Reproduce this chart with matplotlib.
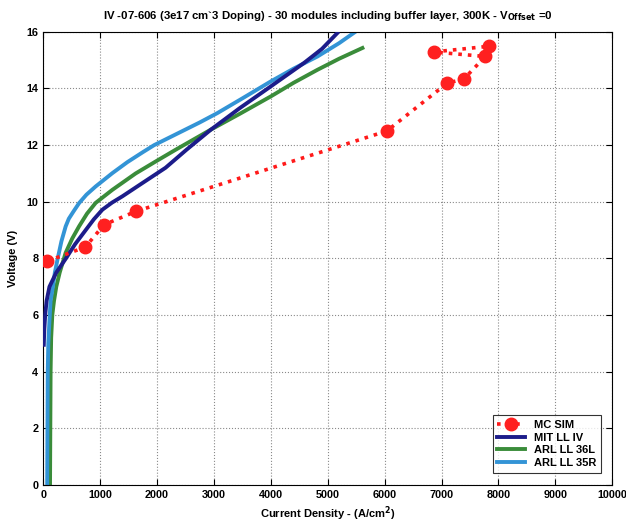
import numpy as np
import matplotlib.pyplot as plt

plt.rcParams['font.family'] = ['Liberation Sans', 'DejaVu Sans']
plt.rcParams['font.weight'] = 'bold'

# Monte Carlo simulation points (A/cm^2, V)
mc_j = [70, 740, 1070, 1630, 6040, 7100, 7390, 7770, 6860, 7830]
mc_v = [7.9, 8.4, 9.19, 9.66, 12.5, 14.19, 14.33, 15.13, 15.29, 15.49]

# Measured IV curves
mit_j = [10, 20, 35, 60, 110, 230, 400, 560, 747, 890, 1040, 1210, 1390,
         1743, 2150, 2520, 2943, 3450, 3997, 4300, 4583, 4900, 5170]
mit_v = [4.95, 5.5, 6.0, 6.5, 7.0, 7.5, 8.0, 8.5, 9.0, 9.38, 9.72, 9.97,
         10.19, 10.66, 11.2, 11.84, 12.54, 13.3, 14.07, 14.5, 14.9, 15.4, 15.96]

arl36_j = [120, 125, 130, 140, 160, 190, 230, 290, 395, 510, 630, 770, 922,
           1215, 1625, 2000, 2330, 2600, 2940, 3450, 4000, 4400, 4820, 5200,
           5610]
arl36_v = [0.0, 2.0, 4.0, 5.2, 6.0, 6.5, 7.0, 7.5, 8.2, 8.7, 9.13, 9.58,
           9.96, 10.42, 11.0, 11.45, 11.84, 12.15, 12.54, 13.1, 13.72, 14.2,
           14.66, 15.05, 15.43]

arl35_j = [70, 75, 80, 90, 110, 130, 170, 205, 250, 320, 395, 450, 530, 630,
           760, 922, 1215, 1480, 1750, 1950, 2350, 2750, 3060, 3500, 4000,
           4400, 4820, 5200, 5520]
arl35_v = [0.0, 2.0, 4.0, 5.0, 5.8, 6.5, 7.0, 7.5, 7.95, 8.6, 9.13, 9.4,
           9.65, 9.95, 10.25, 10.54, 11.01, 11.4, 11.75, 12.0, 12.4, 12.8,
           13.13, 13.65, 14.25, 14.7, 15.13, 15.6, 16.05]

fig = plt.figure(figsize=(6.26, 5.22), dpi=100)
ax = fig.add_axes([0.069, 0.071, 0.909, 0.868])

ax.plot(mc_j, mc_v, color='#ff1a1a', linestyle=':', linewidth=2.6,
        marker='o', markersize=9, markerfacecolor='#ff2020',
        markeredgecolor='#ff2020', label='MC SIM', zorder=4)
ax.plot(mit_j, mit_v, color='#1c1c8a', linewidth=2.8, label='MIT LL IV', zorder=3)
ax.plot(arl36_j, arl36_v, color='#3a8c3a', linewidth=2.8, label='ARL LL 36L', zorder=2)
ax.plot(arl35_j, arl35_v, color='#3394d6', linewidth=2.8, label='ARL LL 35R', zorder=2)

ax.set_xlim(0, 10000)
ax.set_ylim(0, 16)
ax.set_xticks(np.arange(0, 10001, 1000))
ax.set_yticks(np.arange(0, 17, 2))
ax.tick_params(direction='in', top=True, right=True, labelsize=7.8, length=4)
for lab in ax.get_xticklabels() + ax.get_yticklabels():
    lab.set_fontweight('bold')
ax.grid(True, linestyle=':', color='#8a8a8a', linewidth=0.8)

ax.set_xlabel('Current Density - (A/cm$^2$)', fontsize=8, fontweight='bold', labelpad=3)
ax.set_ylabel('Voltage (V)', fontsize=8, fontweight='bold', labelpad=6)
ax.set_title('IV -07-606 (3e17 cm`3 Doping) - 30 modules including buffer layer, '
             '300K - V$_{\\mathbf{Offset}}$ =0', fontsize=8.2, fontweight='bold', pad=9)

leg = ax.legend(loc='lower right', fontsize=8, frameon=True, fancybox=False,
                edgecolor='black', borderpad=0.4, labelspacing=0.25,
                handlelength=2.5, bbox_to_anchor=(0.99, 0.015))
leg.get_frame().set_linewidth(0.8)
for t in leg.get_texts():
    t.set_fontweight('bold')

fig.savefig('out.png', dpi=100)
